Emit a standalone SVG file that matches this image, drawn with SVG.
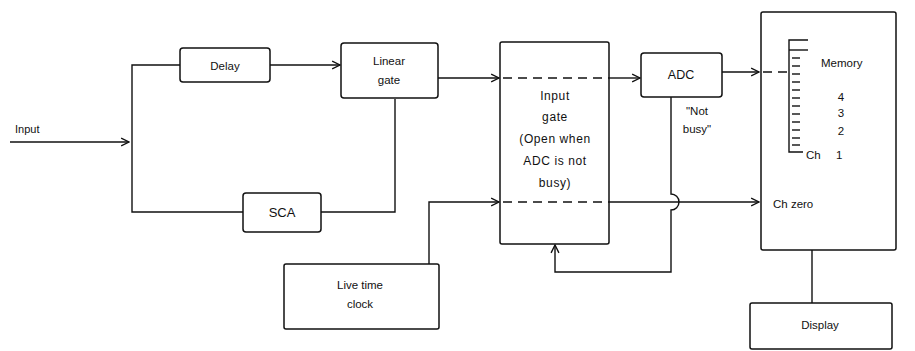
<svg xmlns="http://www.w3.org/2000/svg" width="915" height="351" viewBox="0 0 915 351">
<style>
.box{fill:#fff;stroke:#111;stroke-width:1.5}
.ln{fill:none;stroke:#111;stroke-width:1.4}
.dash{fill:none;stroke:#111;stroke-width:1.4;stroke-dasharray:9 6}
text{font-family:"Liberation Sans",Arial,sans-serif;font-size:11.5px;fill:#111}
.c{text-anchor:middle}
.g{font-size:12px;letter-spacing:0.6px}
</style>
<defs>
<marker id="ah" viewBox="0 0 10 10" refX="9" refY="5" markerWidth="7" markerHeight="7" orient="auto">
<path d="M1,1 L9,5 L1,9" fill="none" stroke="#111" stroke-width="1.4"/>
</marker>
</defs>
<rect width="915" height="351" fill="#fff"/>
<g id="delay"><rect class="box" x="180" y="48" width="90" height="34" rx="3"/><text class="c" x="225" y="70">Delay</text></g>
<g id="sca"><rect class="box" x="243" y="193" width="78" height="39" rx="3"/><text class="c" x="282" y="217" style="font-size:13px">SCA</text></g>
<g id="linear-gate"><rect class="box" x="341" y="43" width="97" height="55" rx="3"/><text class="c" x="389" y="65">Linear</text><text class="c" x="389" y="84">gate</text></g>
<g id="input-gate"><rect class="box" x="500" y="42" width="109" height="202" rx="2"/>
<text class="c g" x="555" y="100">Input</text><text class="c g" x="555" y="121">gate</text><text class="c g" x="555" y="143">(Open when</text><text class="c g" x="555" y="165">ADC is not</text><text class="c g" x="555" y="187">busy)</text></g>
<g id="adc"><rect class="box" x="641" y="53" width="81" height="44" rx="3"/><text class="c" x="681" y="79" style="font-size:12.5px">ADC</text>
<text class="c" x="697" y="115">"Not</text><text class="c" x="697" y="133">busy"</text></g>
<g id="live-time-clock"><rect class="box" x="284" y="264" width="155" height="65" rx="2"/><text class="c" x="360" y="289">Live time</text><text class="c" x="360" y="308">clock</text></g>
<g id="memory"><rect class="box" x="761" y="12" width="135" height="238" rx="2"/>
<path class="ln" d="M808,40 L789,40 L789,152 L803,152"/>
<line class="ln" x1="789" y1="50" x2="808" y2="50"/>
<g class="ln" stroke-width="1">
<line x1="792" y1="58" x2="800" y2="58"/><line x1="792" y1="66" x2="800" y2="66"/><line x1="792" y1="74" x2="800" y2="74"/>
<line x1="792" y1="82" x2="800" y2="82"/><line x1="792" y1="90" x2="800" y2="90"/><line x1="792" y1="98" x2="800" y2="98"/>
<line x1="792" y1="106" x2="800" y2="106"/><line x1="792" y1="114" x2="800" y2="114"/><line x1="792" y1="122" x2="800" y2="122"/>
<line x1="792" y1="130" x2="800" y2="130"/><line x1="792" y1="138" x2="800" y2="138"/><line x1="792" y1="145" x2="800" y2="145"/>
</g>
<text x="821" y="67">Memory</text>
<text class="c" x="841" y="101">4</text><text class="c" x="841" y="117">3</text><text class="c" x="841" y="135">2</text>
<text x="806" y="159">Ch</text><text x="836" y="159">1</text>
<text x="773" y="208">Ch  zero</text></g>
<g id="display"><rect class="box" x="750" y="303" width="142" height="46" rx="2"/><text class="c" x="820" y="329">Display</text></g>
<text x="15" y="133" style="font-size:11px">Input</text>
<g id="connectors">
<line class="ln" x1="10" y1="142" x2="129" y2="142" marker-end="url(#ah)"/>
<polyline class="ln" points="180,65 132,65 132,212 243,212"/>
<line class="ln" x1="270" y1="65" x2="340" y2="65" marker-end="url(#ah)"/>
<polyline class="ln" points="321,212 395,212 395,99"/>
<line class="ln" x1="438" y1="78" x2="499" y2="78" marker-end="url(#ah)"/>
<line class="dash" x1="503" y1="78" x2="609" y2="78"/>
<line class="ln" x1="609" y1="78" x2="640" y2="78" marker-end="url(#ah)"/>
<polyline class="ln" points="429,264 429,202 499,202" marker-end="url(#ah)"/>
<line class="dash" x1="503" y1="202" x2="609" y2="202"/>
<line class="ln" x1="609" y1="202" x2="759" y2="202" marker-end="url(#ah)"/>
<line class="ln" x1="722" y1="72" x2="759" y2="72" marker-end="url(#ah)"/>
<line class="dash" x1="763" y1="72" x2="789" y2="72" stroke-dasharray="5 4"/>
<path class="ln" d="M671,97 L671,194 A8,8 0 0 1 671,210 L671,272 L555,272 L555,245" marker-end="url(#ah)"/>
<line class="ln" x1="812" y1="250" x2="812" y2="303"/>
</g>
</svg>
